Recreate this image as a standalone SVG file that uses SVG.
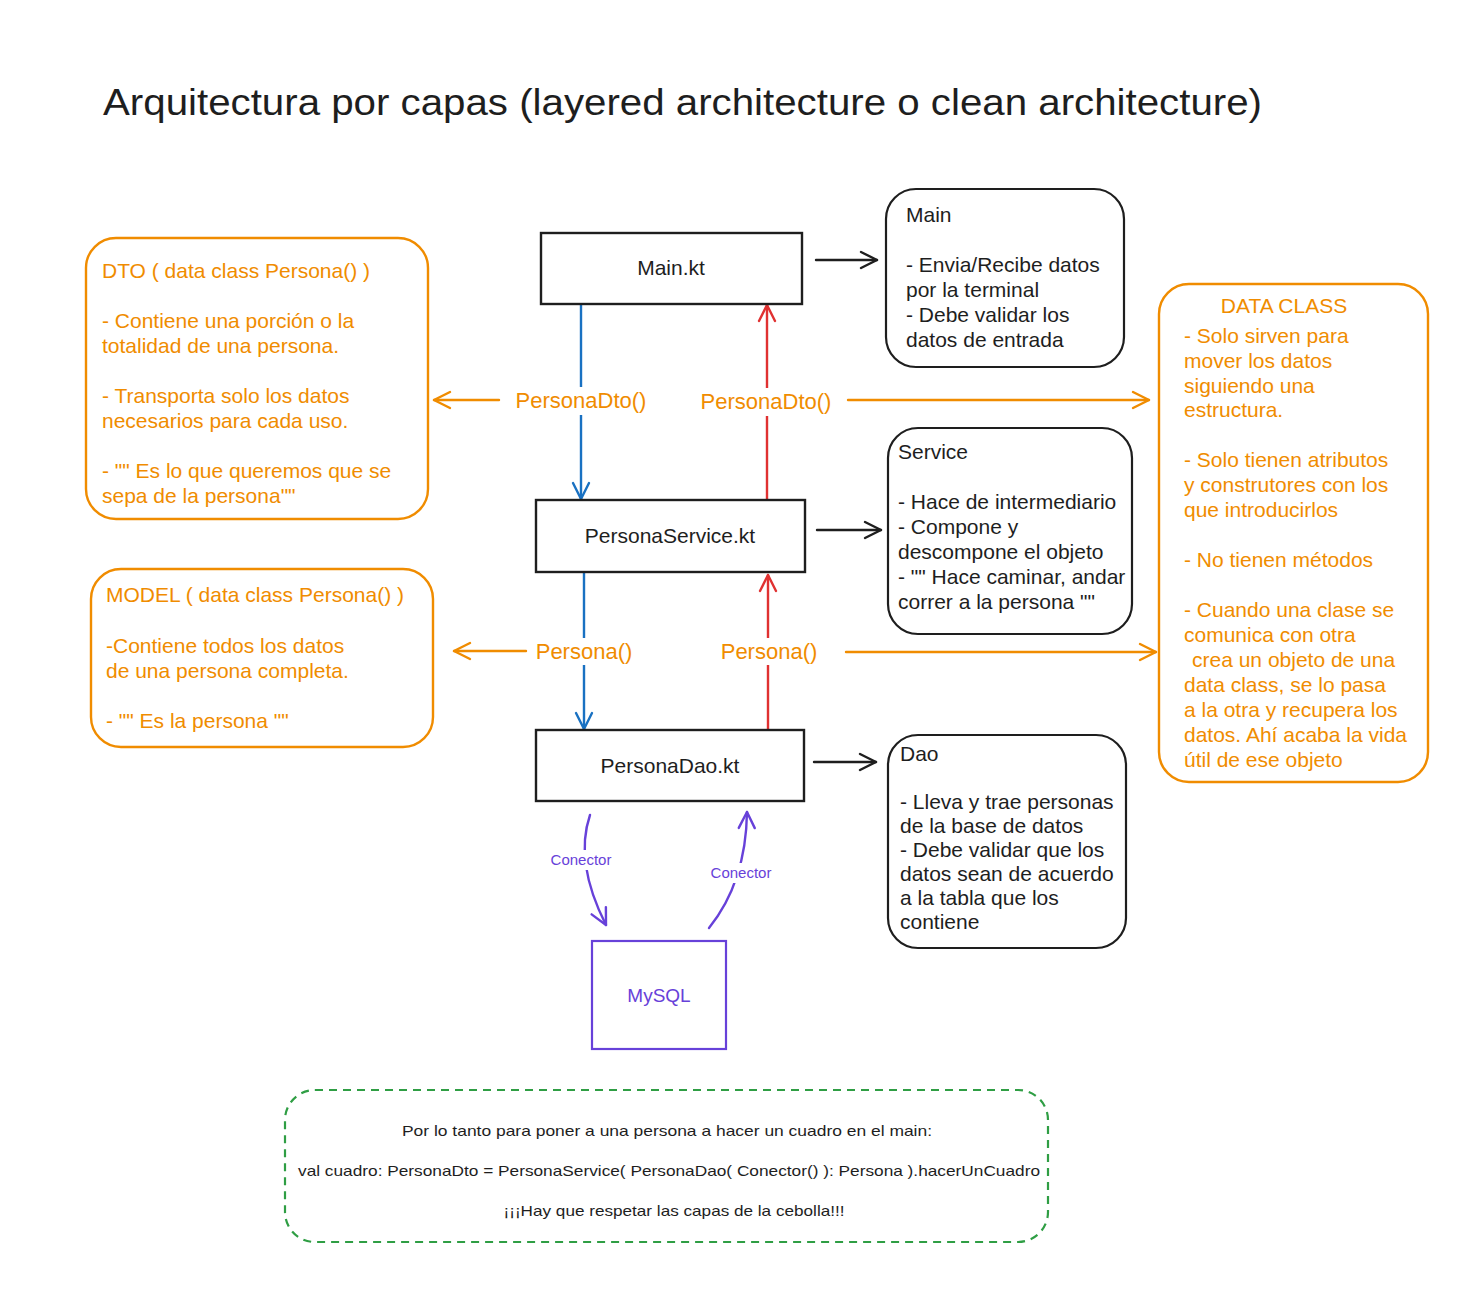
<svg xmlns="http://www.w3.org/2000/svg" width="1473" height="1304" viewBox="0 0 1473 1304">
<style>
text{font-family:"Liberation Sans",Arial,sans-serif;fill:#1e1e1e}
.t{font-size:21px}
.o{fill:#f08c00}
.p{fill:#6741d9}
.box{fill:#fff;stroke:#1e1e1e;stroke-width:2.4}
.note{fill:#fff;stroke:#1e1e1e;stroke-width:2.2}
.onote{fill:#fff;stroke:#f08c00;stroke-width:2.4}
.ln{fill:none;stroke-width:2.4;stroke-linecap:round}
.lbl{fill:#fff}
</style>
<defs>
<marker id="hk" viewBox="0 0 20 20" refX="18" refY="10" markerWidth="20" markerHeight="20" markerUnits="userSpaceOnUse" orient="auto"><path d="M2,2 L18,10 L2,18" fill="none" stroke="#1e1e1e" stroke-width="2.4" stroke-linecap="round" stroke-linejoin="round"/></marker>
<marker id="hb" viewBox="0 0 20 20" refX="18" refY="10" markerWidth="20" markerHeight="20" markerUnits="userSpaceOnUse" orient="auto"><path d="M2,2 L18,10 L2,18" fill="none" stroke="#1971c2" stroke-width="2.4" stroke-linecap="round" stroke-linejoin="round"/></marker>
<marker id="hr" viewBox="0 0 20 20" refX="18" refY="10" markerWidth="20" markerHeight="20" markerUnits="userSpaceOnUse" orient="auto"><path d="M2,2 L18,10 L2,18" fill="none" stroke="#e03131" stroke-width="2.4" stroke-linecap="round" stroke-linejoin="round"/></marker>
<marker id="ho" viewBox="0 0 20 20" refX="18" refY="10" markerWidth="20" markerHeight="20" markerUnits="userSpaceOnUse" orient="auto"><path d="M2,2 L18,10 L2,18" fill="none" stroke="#f08c00" stroke-width="2.4" stroke-linecap="round" stroke-linejoin="round"/></marker>
<marker id="hp" viewBox="0 0 20 20" refX="18" refY="10" markerWidth="20" markerHeight="20" markerUnits="userSpaceOnUse" orient="auto"><path d="M2,2 L18,10 L2,18" fill="none" stroke="#6741d9" stroke-width="2.4" stroke-linecap="round" stroke-linejoin="round"/></marker>
</defs>
<rect width="1473" height="1304" fill="#fff"/>

<text x="103" y="115" font-size="36" textLength="1159" lengthAdjust="spacingAndGlyphs">Arquitectura por capas (layered architecture o clean architecture)</text>

<g id="connectors">
  <path class="ln" stroke="#1971c2" d="M581,304 L581,499" marker-end="url(#hb)"/>
  <path class="ln" stroke="#e03131" d="M767,500 L767,305" marker-end="url(#hr)"/>
  <path class="ln" stroke="#1971c2" d="M584,572 L584,729" marker-end="url(#hb)"/>
  <path class="ln" stroke="#e03131" d="M768,730 L768,575" marker-end="url(#hr)"/>
  <path class="ln" stroke="#f08c00" d="M499,400 L434,400" marker-end="url(#ho)"/>
  <path class="ln" stroke="#f08c00" d="M848,400 L1149,400" marker-end="url(#ho)"/>
  <path class="ln" stroke="#f08c00" d="M526,651 L454,651" marker-end="url(#ho)"/>
  <path class="ln" stroke="#f08c00" d="M846,652 L1156,652" marker-end="url(#ho)"/>
  <path class="ln" stroke="#1e1e1e" d="M816,260 L877,260" marker-end="url(#hk)"/>
  <path class="ln" stroke="#1e1e1e" d="M817,530 L881,530" marker-end="url(#hk)"/>
  <path class="ln" stroke="#1e1e1e" d="M814,762 L876,762" marker-end="url(#hk)"/>
  <path class="ln" stroke="#6741d9" d="M590,815 Q574,862 606,925" marker-end="url(#hp)"/>
  <path class="ln" stroke="#6741d9" d="M709,928 Q746,882 747,812" marker-end="url(#hp)"/>
  <rect class="lbl" x="512" y="387" width="139" height="28"/>
  <text class="o" x="581" y="408" font-size="22" text-anchor="middle">PersonaDto()</text>
  <rect class="lbl" x="697" y="388" width="139" height="28"/>
  <text class="o" x="766" y="409" font-size="22" text-anchor="middle">PersonaDto()</text>
  <rect class="lbl" x="534" y="638" width="101" height="27"/>
  <text class="o" x="584" y="659" font-size="22" text-anchor="middle">Persona()</text>
  <rect class="lbl" x="719" y="638" width="101" height="27"/>
  <text class="o" x="769" y="659" font-size="22" text-anchor="middle">Persona()</text>
  <rect class="lbl" x="545" y="850" width="72" height="20"/>
  <text class="p" x="581" y="865" font-size="15" text-anchor="middle">Conector</text>
  <rect class="lbl" x="705" y="863" width="72" height="20"/>
  <text class="p" x="741" y="878" font-size="15" text-anchor="middle">Conector</text>
</g>

<g id="main-kt">
  <rect class="box" x="541" y="233" width="261" height="71"/>
  <text class="t" x="671" y="275" text-anchor="middle">Main.kt</text>
</g>
<g id="persona-service">
  <rect class="box" x="536" y="500" width="269" height="72"/>
  <text class="t" x="670" y="543" text-anchor="middle">PersonaService.kt</text>
</g>
<g id="persona-dao">
  <rect class="box" x="536" y="730" width="268" height="71"/>
  <text class="t" x="670" y="773" text-anchor="middle">PersonaDao.kt</text>
</g>
<g id="mysql">
  <rect x="592" y="941" width="134" height="108" fill="#fff" stroke="#6741d9" stroke-width="2.2"/>
  <text class="p" x="659" y="1002" font-size="19" text-anchor="middle">MySQL</text>
</g>

<g id="main-note">
  <rect class="note" x="886" y="189" width="238" height="178" rx="30"/>
  <text class="t" x="906" y="222">Main</text>
  <text class="t" x="906" y="272">- Envia/Recibe datos</text>
  <text class="t" x="906" y="297">por la terminal</text>
  <text class="t" x="906" y="322">- Debe validar los</text>
  <text class="t" x="906" y="347">datos de entrada</text>
</g>
<g id="service-note">
  <rect class="note" x="888" y="428" width="244" height="206" rx="30"/>
  <text class="t" x="898" y="459">Service</text>
  <text class="t" x="898" y="509">- Hace de intermediario</text>
  <text class="t" x="898" y="534">- Compone y</text>
  <text class="t" x="898" y="559">descompone el objeto</text>
  <text class="t" x="898" y="584">- "" Hace caminar, andar</text>
  <text class="t" x="898" y="609">correr a la persona ""</text>
</g>
<g id="dao-note">
  <rect class="note" x="888" y="735" width="238" height="213" rx="30"/>
  <text class="t" x="900" y="761">Dao</text>
  <text class="t" x="900" y="809">- Lleva y trae personas</text>
  <text class="t" x="900" y="833">de la base de datos</text>
  <text class="t" x="900" y="857">- Debe validar que los</text>
  <text class="t" x="900" y="881">datos sean de acuerdo</text>
  <text class="t" x="900" y="905">a la tabla que los</text>
  <text class="t" x="900" y="929">contiene</text>
</g>

<g id="dto-note">
  <rect class="onote" x="86" y="238" width="342" height="281" rx="30"/>
  <text class="t o" x="102" y="278">DTO ( data class Persona() )</text>
  <text class="t o" x="102" y="328">- Contiene una porción o la</text>
  <text class="t o" x="102" y="353">totalidad de una persona.</text>
  <text class="t o" x="102" y="403">- Transporta solo los datos</text>
  <text class="t o" x="102" y="428">necesarios para cada uso.</text>
  <text class="t o" x="102" y="478">- "" Es lo que queremos que se</text>
  <text class="t o" x="102" y="503">sepa de la persona""</text>
</g>
<g id="model-note">
  <rect class="onote" x="91" y="569" width="342" height="178" rx="30"/>
  <text class="t o" x="106" y="602">MODEL ( data class Persona() )</text>
  <text class="t o" x="106" y="653">-Contiene todos los datos</text>
  <text class="t o" x="106" y="678">de una persona completa.</text>
  <text class="t o" x="106" y="728">- "" Es la persona ""</text>
</g>
<g id="dataclass-note">
  <rect class="onote" x="1159" y="284" width="269" height="498" rx="30"/>
  <text class="t o" x="1284" y="313" text-anchor="middle">DATA CLASS</text>
  <text class="t o" x="1184" y="343">- Solo sirven para</text>
  <text class="t o" x="1184" y="368">mover los datos</text>
  <text class="t o" x="1184" y="393">siguiendo una</text>
  <text class="t o" x="1184" y="417">estructura.</text>
  <text class="t o" x="1184" y="467">- Solo tienen atributos</text>
  <text class="t o" x="1184" y="492">y construtores con los</text>
  <text class="t o" x="1184" y="517">que introducirlos</text>
  <text class="t o" x="1184" y="567">- No tienen métodos</text>
  <text class="t o" x="1184" y="617">- Cuando una clase se</text>
  <text class="t o" x="1184" y="642">comunica con otra</text>
  <text class="t o" x="1192" y="667">crea un objeto de una</text>
  <text class="t o" x="1184" y="692">data class, se lo pasa</text>
  <text class="t o" x="1184" y="717">a la otra y recupera los</text>
  <text class="t o" x="1184" y="742">datos. Ahí acaba la vida</text>
  <text class="t o" x="1184" y="767">útil de ese objeto</text>
</g>

<g id="summary">
  <rect x="285" y="1090" width="763" height="152" rx="30" fill="#fff" stroke="#2f9e44" stroke-width="2.2" stroke-dasharray="8 6"/>
  <text x="667" y="1136" font-size="15" text-anchor="middle" textLength="530" lengthAdjust="spacingAndGlyphs">Por lo tanto para poner a una persona a hacer un cuadro en el main:</text>
  <text x="669" y="1176" font-size="15" text-anchor="middle" textLength="742" lengthAdjust="spacingAndGlyphs">val cuadro: PersonaDto = PersonaService( PersonaDao( Conector() ): Persona ).hacerUnCuadro</text>
  <text x="674" y="1216" font-size="15" text-anchor="middle" textLength="341" lengthAdjust="spacingAndGlyphs">¡¡¡Hay que respetar las capas de la cebolla!!!</text>
</g>
</svg>
